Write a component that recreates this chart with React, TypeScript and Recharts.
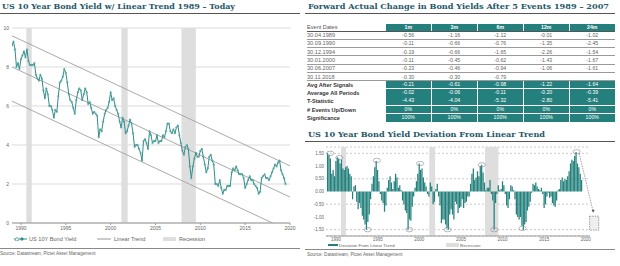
import React from "react";
import {
  ComposedChart,
  Bar,
  Line,
  XAxis,
  YAxis,
  CartesianGrid,
  ReferenceArea,
  ReferenceLine,
  ReferenceDot,
} from "recharts";

// bi-monthly observations starting Jan 1989
const START_YEAR = 1989;
const PER_YEAR = 6;

const yieldValues = [
  9.1, 9.3, 8.9, 8.0, 8.2, 7.9,
  8.4, 8.6, 8.8, 8.5, 8.9, 8.3,
  8.1, 8.1, 8.1, 8.2, 7.6, 7.4,
  7.3, 7.6, 7.4, 6.8, 6.4, 6.9,
  6.6, 6.0, 6.0, 5.8, 5.4, 5.8,
  5.7, 6.5, 7.2, 7.3, 7.5, 7.9,
  7.7, 7.2, 6.6, 6.3, 6.2, 5.9,
  5.6, 6.3, 6.7, 6.9, 6.8, 6.3,
  6.6, 6.9, 6.7, 6.1, 6.2, 5.9,
  5.6, 5.7, 5.6, 5.5, 4.4, 4.8,
  4.7, 5.2, 5.6, 5.8, 5.9, 6.2,
  6.7, 6.3, 6.4, 6.0, 5.8, 5.6,
  5.2, 4.9, 5.4, 5.2, 4.6, 4.7,
  5.0, 5.3, 5.1, 4.6, 3.9, 4.0,
  4.0, 3.8, 3.6, 3.2, 4.2, 4.3,
  4.1, 3.8, 4.7, 4.5, 4.1, 4.2,
  4.2, 4.5, 4.1, 4.2, 4.2, 4.5,
  4.4, 4.7, 5.1, 5.1, 4.7, 4.6,
  4.8, 4.6, 4.9, 5.0, 4.5, 4.1,
  3.7, 3.5, 3.9, 4.0, 3.8, 2.9,
  2.3, 2.9, 3.3, 3.6, 3.4, 3.4,
  3.7, 3.8, 3.4, 3.0, 2.6, 2.8,
  3.4, 3.5, 3.2, 3.0, 2.0, 2.0,
  1.9, 2.2, 1.8, 1.5, 1.7, 1.7,
  1.9, 1.9, 1.9, 2.6, 2.8, 2.7,
  2.9, 2.7, 2.5, 2.5, 2.5, 2.3,
  1.8, 2.0, 2.2, 2.4, 2.2, 2.2,
  2.0, 1.9, 1.8, 1.5, 1.6, 2.3,
  2.4, 2.5, 2.3, 2.3, 2.2, 2.4,
  2.6, 2.8, 3.0, 2.9, 3.1, 3.2,
  2.7, 2.5, 2.3, 2.0,
];

const deviationValues = [
  1.5, 1.45, 1.3, 0.7, 0.85, 0.6,
  1.2, 1.35, 1.3, 1.1, 1.25, 0.9,
  0.85, 0.95, 1.0, 0.9, 0.7, 0.6,
  -0.3, 0.2, 0.25, -0.4, -0.7, -0.45,
  -0.65, -0.95, -1.1, -1.3, -1.5, -1.2,
  -0.9, -0.3, 0.3, 0.6, 0.95, 1.2,
  0.85, 0.4, -0.1, -0.35, -0.45, -0.8,
  -0.55, 0.15, 0.45, 0.6, 0.35, 0.1,
  0.4, 0.7, 0.55, 0.15, 0.25, 0.05,
  -0.35, -0.5, -0.75, -0.85, -1.5, -1.1,
  -1.15, -0.6, -0.2, 0.15, 0.4, 0.7,
  1.1, 0.85, 0.9, 0.55, 0.35, 0.2,
  -0.1, -0.2, 0.35, 0.2, -0.5, -0.4,
  0.1, 0.3, -0.2, -0.55, -1.25, -1.1,
  -1.1, -1.3, -1.45, -1.5, -0.9, -0.7,
  -0.9, -1.1, -0.4, -0.5, -0.85, -0.65,
  -0.6, -0.3, -0.65, -0.45, -0.4, -0.2,
  -0.2, 0.3, 0.7, 0.9, 0.45, 0.55,
  0.8, 0.6, 1.0, 1.05, 0.75, 0.35,
  0.05, 0.15, 0.15, 0.45, -0.1, -0.35,
  -1.5, -0.45, -0.1, 0.25, 0.05, 0.1,
  0.4, 0.25, -0.1, -0.55, -0.65, -0.3,
  0.25, 0.2, 0.05, -0.3, -0.9, -1.0,
  -1.1, -1.0, -1.35, -1.5, -1.3, -1.2,
  -0.75, -0.6, -0.4, -0.05, 0.3, 0.25,
  0.35, 0.2, 0.1, 0.05, 0.15, -0.1,
  -0.65, -0.5, -0.2, -0.05, -0.25, -0.2,
  -0.45, -0.55, -0.6, -0.35, 0.05, 0.1,
  0.45, 0.55, 0.4, 0.5, 0.45, 0.6,
  0.8, 1.1, 1.25, 1.2, 1.4, 1.55,
  1.1, 0.95, 0.7, 0.45,
];

const yearTicks = [1990, 1995, 2000, 2005, 2010, 2015, 2020];
const yieldTicks = [0, 2, 4, 6, 8, 10];
const deviationTicks = [-1.5, -1, -0.5, 0, 0.5, 1, 1.5];

const recessionStarts = [1990.6, 2001.2, 2007.9];
const recessionEnds = [1991.2, 2001.9, 2009.5];

// linear trend channel, values at first and last year
const trendYears = [1989, 2020];
const trendUpper = [9.6, 2.93];
const trendMiddle = [8.0, 1.33];
const trendLower = [6.25, -0.42];

// circled extremes on the deviation chart
const markYears = [1989.3, 1990.4, 1994.9, 2000.1, 2007.5, 2018.9, 1993.8, 1998.8, 2003.4, 2009.0, 2012.4];
const markValues = [1.5, 1.33, 1.22, 1.1, 1.05, 1.56, -1.5, -1.5, -1.5, -1.5, -1.45];

const arrowYears = [2019.2, 2020.88];
const arrowValues = [1.5, -0.8];
const boxYears = [2020.45, 2021.55];
const boxValues = [-1.52, -0.97];

const eventDates = ["30.04.1989", "30.09.1990", "30.12.1994", "30.01.2000", "30.06.2007", "30.11.2018"];
const horizons = ["1m", "3m", "6m", "12m", "24m"];
const eventChanges = [
  ["-0.56", "-1.16", "-1.12", "-0.01", "-1.02"],
  ["-0.11", "-0.66", "-0.76", "-1.35", "-2.45"],
  ["-0.19", "-0.66", "-1.65", "-2.26", "-1.54"],
  ["-0.11", "-0.45", "-0.62", "-1.43", "-1.67"],
  ["-0.23", "-0.46", "-0.94", "-1.06", "-1.61"],
  ["-0.30", "-0.30", "-0.79", "", ""],
];
const statLabels = ["Avg After Signals", "Average All Periods", "T-Statistic", "# Events Up/Down", "Significance"];
const statValues = [
  ["-0.21", "-0.61", "-0.98", "-1.22", "-1.64"],
  ["-0.02", "-0.06", "-0.11", "-0.20", "-0.39"],
  ["-4.43", "-4.04", "-5.32", "-2.80", "-5.41"],
  ["0%", "0%", "0%", "0%", "0%"],
  ["100%", "100%", "100%", "100%", "100%"],
];

const TEAL = "#23807c";
const LINE_TEAL = "#2f8d89";
const TITLE = "#24586a";
const GREY_TEXT = "#666";
const RECESSION = "#dedede";

const yieldData = yieldValues.map((y, i) => ({ t: START_YEAR + i / PER_YEAR, y }));
const deviationData = deviationValues.map((d, i) => ({ t: START_YEAR + i / PER_YEAR, d }));

const tickStyle = { fontSize: 5, fill: GREY_TEXT };

// titles are fitted to the width they take in the source layout
function Title({ x, y, w, children }: { x: number; y: number; w: number; children: string }) {
  return (
    <svg style={{ position: "absolute", left: x, top: y }} width={w + 2} height={11}>
      <text
        x={0}
        y={8.2}
        textLength={w}
        lengthAdjust="spacingAndGlyphs"
        fontFamily="'DejaVu Serif', serif"
        fontWeight="bold"
        fontSize={8}
        fill={TITLE}
      >
        {children}
      </text>
    </svg>
  );
}

function Rule({ x, y, w, h = 1.5, c = "#555" }: { x: number; y: number; w: number; h?: number; c?: string }) {
  return <div style={{ position: "absolute", left: x, top: y, width: w, height: h, background: c }} />;
}

function Note({ x, y, children, size = 5 }: { x: number; y: number; children: React.ReactNode; size?: number }) {
  return (
    <div style={{ position: "absolute", left: x, top: y, fontSize: size, color: GREY_TEXT, whiteSpace: "nowrap", lineHeight: "7px" }}>
      {children}
    </div>
  );
}

function Ellipse(props: any) {
  return <ellipse cx={props.cx} cy={props.cy} rx={3.6} ry={2.2} fill="none" stroke="#8a8a8a" strokeWidth={0.6} />;
}

function ArrowHead(props: any) {
  const { cx, cy } = props;
  return <path d={`M${cx - 1.6},${cy - 2} L${cx + 1.6},${cy - 2} L${cx},${cy + 1} Z`} fill="#555" />;
}

function YieldChart() {
  return (
    <div style={{ position: "absolute", left: 0, top: 0 }}>
      <ComposedChart width={300} height={240} data={yieldData} margin={{ top: 28, right: 0, bottom: 5, left: 0 }}>
        <CartesianGrid vertical={false} stroke="#d2d2d2" strokeWidth={0.8} yAxisId="left" />
        {recessionStarts.map((s, i) => (
          <ReferenceArea key={i} yAxisId="left" x1={s} x2={recessionEnds[i]} fill={RECESSION} fillOpacity={1} stroke="none" />
        ))}
        <XAxis
          type="number"
          dataKey="t"
          domain={[1989, 2020]}
          ticks={yearTicks}
          tick={tickStyle}
          tickSize={2}
          tickMargin={1}
          height={12}
          stroke="#999"
          allowDataOverflow
        />
        <YAxis yAxisId="left" domain={[0, 10]} ticks={yieldTicks} tick={tickStyle} width={12} tickSize={0} tickMargin={3} axisLine={false} />
        <YAxis yAxisId="right" orientation="right" domain={[0, 10]} ticks={yieldTicks} tick={tickStyle} width={10} tickSize={0} tickMargin={2} axisLine={false} />
        {[trendUpper, trendMiddle, trendLower].map((tr, i) => (
          <ReferenceLine
            key={i}
            yAxisId="left"
            segment={[
              { x: trendYears[0], y: tr[0] },
              { x: trendYears[1], y: tr[1] },
            ]}
            stroke="#a0a0a0"
            strokeWidth={0.9}
            ifOverflow="hidden"
          />
        ))}
        <Line
          yAxisId="left"
          dataKey="y"
          stroke={LINE_TEAL}
          strokeWidth={1}
          dot={{ r: 0.8, fill: "#6cb8b3", stroke: LINE_TEAL, strokeWidth: 0.4 }}
          isAnimationActive={false}
        />
      </ComposedChart>
    </div>
  );
}

function DeviationChart() {
  return (
    <div style={{ position: "absolute", left: 305, top: 140 }}>
      <ComposedChart width={310} height={108} data={deviationData} margin={{ top: 7, right: 0, bottom: 2, left: 0 }}>
        {recessionStarts.map((s, i) => (
          <ReferenceArea key={i} yAxisId="left" x1={s} x2={recessionEnds[i]} fill={RECESSION} fillOpacity={1} stroke="none" />
        ))}
        <CartesianGrid vertical={false} stroke="#a8a8a8" strokeWidth={0.6} strokeDasharray="2 2" yAxisId="left" />
        <XAxis
          type="number"
          dataKey="t"
          domain={[1988.8, 2020.5]}
          ticks={yearTicks}
          tick={{ fontSize: 4.5, fill: GREY_TEXT }}
          tickSize={0}
          tickMargin={2}
          height={10}
          stroke="#999"
          allowDataOverflow
        />
        <YAxis
          yAxisId="left"
          domain={[-1.75, 1.75]}
          ticks={deviationTicks}
          tickFormatter={(v: number) => v.toFixed(2)}
          tick={{ fontSize: 4.5, fill: GREY_TEXT }}
          width={21}
          tickSize={0}
          tickMargin={2}
          axisLine={false}
        />
        <YAxis
          yAxisId="right"
          orientation="right"
          domain={[-1.75, 1.75]}
          ticks={deviationTicks}
          tickFormatter={(v: number) => v.toFixed(2)}
          tick={{ fontSize: 4.5, fill: GREY_TEXT }}
          width={25}
          tickSize={0}
          tickMargin={2}
          axisLine={false}
        />
        <Bar yAxisId="left" dataKey="d" fill={TEAL} barSize={1.5} isAnimationActive={false} />
        {markYears.map((yr, i) => (
          <ReferenceDot key={i} yAxisId="left" x={yr} y={markValues[i]} r={3} shape={Ellipse} ifOverflow="visible" />
        ))}
        <ReferenceLine
          yAxisId="left"
          segment={[
            { x: arrowYears[0], y: arrowValues[0] },
            { x: arrowYears[1], y: arrowValues[1] },
          ]}
          stroke="#666"
          strokeWidth={0.6}
          strokeDasharray="1.5 1"
          ifOverflow="visible"
        />
        <ReferenceDot yAxisId="left" x={arrowYears[1]} y={arrowValues[1]} r={2} shape={ArrowHead} ifOverflow="visible" />
        <ReferenceArea
          yAxisId="left"
          x1={boxYears[0]}
          x2={boxYears[1]}
          y1={boxValues[0]}
          y2={boxValues[1]}
          fill="#eeeeee"
          fillOpacity={1}
          stroke="#666"
          strokeWidth={0.6}
          strokeDasharray="1.5 1"
          ifOverflow="visible"
        />
      </ComposedChart>
    </div>
  );
}

function EventTable() {
  const left = 386;
  const colW = 46;
  const headTop = 24;
  const rowTop = 31;
  const rowH = 8.3;
  const cell = (x: number, y: number, w: number, h: number, text: string, style: React.CSSProperties) => (
    <div
      style={{
        position: "absolute",
        left: x,
        top: y,
        width: w,
        height: h,
        lineHeight: `${h}px`,
        textAlign: "center",
        fontSize: 5.2,
        whiteSpace: "nowrap",
        ...style,
      }}
    >
      {text}
    </div>
  );
  return (
    <>
      {cell(307, headTop, 78, 7, "Event Dates", { textAlign: "left", color: "#555", fontSize: 5.6 })}
      <Rule x={307} y={headTop + 7.3} w={308} h={0.8} c="#555" />
      {horizons.map((h, j) => cell(left + j * colW, headTop, colW - 1.5, 7, h, { background: TEAL, color: "#fff", fontWeight: "bold" }))}
      {eventDates.map((d, i) => (
        <React.Fragment key={d}>
          {cell(307, rowTop + i * rowH, 78, rowH, d, { textAlign: "left", color: "#666", fontSize: 5.6 })}
          {eventChanges[i].map((v, j) => cell(left + j * colW, rowTop + i * rowH, colW - 1.5, rowH, v, { color: "#666" }))}
          <Rule x={307} y={rowTop + (i + 1) * rowH - 0.5} w={308} h={0.6} c="#9a9a9a" />
        </React.Fragment>
      ))}
      {statLabels.map((s, i) => {
        const y = rowTop + (eventDates.length + i) * rowH;
        return (
          <React.Fragment key={s}>
            {cell(307, y, 78, rowH, s, { textAlign: "left", color: "#333", fontWeight: "bold", fontSize: 5.6 })}
            {statValues[i].map((v, j) =>
              cell(left + j * colW, y, colW - 1.5, rowH - 0.6, v, { background: TEAL, color: "#fff" })
            )}
          </React.Fragment>
        );
      })}
    </>
  );
}

function LegendSwatch({ x, y, kind }: { x: number; y: number; kind: "yield" | "trend" | "recession" | "bar" }) {
  return (
    <svg style={{ position: "absolute", left: x, top: y }} width={14} height={6}>
      {kind === "yield" && (
        <>
          <line x1={0} y1={3} x2={13} y2={3} stroke={LINE_TEAL} strokeWidth={1} />
          <path d="M3,1 L5,4.5 L1,4.5 Z" fill="#fff" stroke={LINE_TEAL} strokeWidth={0.5} />
          <path d="M8,1 L10,3 L8,5 L6,3 Z" fill={LINE_TEAL} />
        </>
      )}
      {kind === "trend" && <line x1={0} y1={3} x2={14} y2={3} stroke="#999" strokeWidth={1} />}
      {kind === "recession" && <rect x={0} y={1} width={13} height={4} fill={RECESSION} />}
      {kind === "bar" && <rect x={0} y={2} width={10} height={2} fill={TEAL} />}
    </svg>
  );
}

export default function App() {
  return (
    <div
      style={{
        position: "absolute",
        left: 0,
        top: 0,
        width: 620,
        height: 266,
        background: "#fff",
        overflow: "hidden",
        fontFamily: "'Liberation Sans', Arial, sans-serif",
      }}
    >
      <Title x={2} y={1} w={233}>US 10 Year Bond Yield w/ Linear Trend 1989 – Today</Title>
      <Rule x={0} y={12.5} w={300} />
      <YieldChart />
      <LegendSwatch x={14} y={236} kind="yield" />
      <Note x={29} y={235.5} size={5.6}>US 10Y Bond Yield</Note>
      <LegendSwatch x={97} y={236} kind="trend" />
      <Note x={114} y={235.5} size={5.6}>Linear Trend</Note>
      <LegendSwatch x={163} y={236} kind="recession" />
      <Note x={179} y={235.5} size={5.6}>Recession</Note>
      <Rule x={0} y={247.5} w={300} h={1} c="#8a8a8a" />
      <Note x={0} y={249.5} size={4.6}>Source: Datastream, Pictet Asset Management</Note>

      <Title x={308} y={1} w={301}>Forward Actual Change in Bond Yields After 5 Events 1989 – 2007</Title>
      <Rule x={305} y={12.5} w={310} />
      <EventTable />

      <Title x={308} y={129} w={237}>US 10 Year Bond Yield Deviation From Linear Trend</Title>
      <Rule x={305} y={140.5} w={310} />
      <DeviationChart />
      <LegendSwatch x={328} y={242} kind="bar" />
      <Note x={339} y={241.5} size={4.4}>Deviation From Linear Trend</Note>
      <LegendSwatch x={446} y={242} kind="recession" />
      <Note x={460} y={241.5} size={4.4}>Recession</Note>
      <Rule x={305} y={248.5} w={310} h={1} c="#8a8a8a" />
      <Note x={307} y={251} size={4.6}>Source: Datastream, Pictet Asset Management</Note>
    </div>
  );
}
